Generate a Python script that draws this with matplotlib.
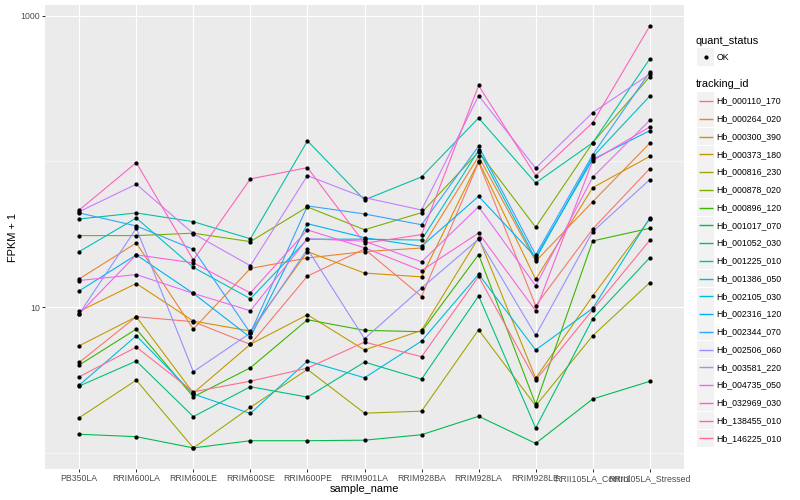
import matplotlib
matplotlib.use('Agg')
import matplotlib.pyplot as plt
import numpy as np
from matplotlib.patches import Rectangle
from matplotlib.ticker import FixedLocator, NullFormatter

plt.rcParams['font.family'] = ['Liberation Sans', 'DejaVu Sans']

samples = ["PB350LA", "RRIM600LA", "RRIM600LE", "RRIM600SE", "RRIM600PE", "RRIM901LA",
           "RRIM928BA", "RRIM928LA", "RRIM928LE", "RRII105LA_Control", "RRII105LA_Stressed"]
ids = ["Hb_000110_170", "Hb_000264_020", "Hb_000300_390", "Hb_000373_180", "Hb_000816_230",
       "Hb_000878_020", "Hb_000896_120", "Hb_001017_070", "Hb_001052_030", "Hb_001225_010",
       "Hb_001386_050", "Hb_002105_030", "Hb_002316_120", "Hb_002344_070", "Hb_002506_060",
       "Hb_003581_220", "Hb_004735_050", "Hb_032969_030", "Hb_138455_010", "Hb_146225_010"]
colors = ["#F8766D", "#EA8331", "#D89000", "#C09B00", "#A3A500", "#7CAE00", "#39B600", "#00BB4E",
          "#00BF7D", "#00C1A3", "#00BFC4", "#00BAE0", "#00B0F6", "#35A2FF", "#9590FF", "#C77CFF",
          "#E76BF3", "#FA62DB", "#FF62BC", "#FF6C91"]

# FPKM + 1, one value per sample
hb_000110_170 = [4.17, 8.58, 7.93, 5.54, 16.3, 25.0, 11.8, 98.5, 10.2, 34.3, 89.0]
hb_000264_020 = [15.6, 27.5, 7.06, 18.4, 21.7, 24.0, 25.4, 108, 20.6, 52.8, 133]
hb_000300_390 = [9.34, 14.5, 8.01, 6.84, 24.0, 17.1, 16.1, 100, 15.5, 65.9, 108]
hb_000373_180 = [5.42, 8.58, 2.57, 5.55, 8.85, 5.07, 6.92, 29.9, 3.25, 11.9, 40.2]
hb_000816_230 = [1.74, 3.15, 1.08, 2.05, 3.73, 1.87, 1.93, 6.98, 2.1, 6.35, 14.7]
hb_000878_020 = [30.9, 30.9, 32.1, 28.1, 48.6, 33.9, 44.4, 116, 35.3, 134, 381]
hb_000896_120 = [4.0, 7.06, 2.42, 3.83, 8.18, 6.92, 6.77, 22.9, 2.15, 28.4, 34.7]
hb_001017_070 = [1.34, 1.29, 1.08, 1.21, 1.21, 1.22, 1.33, 1.78, 1.16, 2.34, 3.09]
hb_001052_030 = [2.87, 4.26, 1.77, 2.84, 2.41, 4.19, 3.2, 11.9, 1.48, 8.31, 21.8]
hb_001225_010 = [40.2, 44.2, 38.5, 29.4, 138, 54.3, 78.1, 198, 71.0, 134, 504]
hb_001386_050 = [24.0, 40.8, 18.7, 11.4, 29.2, 29.2, 28.8, 119, 21.3, 107, 280]
hb_002105_030 = [2.91, 6.35, 2.53, 1.86, 4.26, 3.27, 5.84, 16.8, 5.07, 9.8, 40.8]
hb_002316_120 = [12.9, 22.8, 12.4, 6.19, 37.3, 29.9, 26.1, 57.5, 22.0, 103, 162]
hb_002344_070 = [44.2, 36.0, 24.9, 6.63, 49.4, 43.5, 36.7, 127, 22.8, 111, 409]
hb_002506_060 = [8.99, 34.7, 3.6, 6.63, 25.0, 6.06, 13.5, 29.2, 6.39, 32.9, 74.8]
hb_003581_220 = [45.1, 69.6, 31.9, 19.2, 79.7, 56.3, 46.3, 282, 89.6, 216, 396]
hb_004735_050 = [15.2, 16.7, 12.4, 9.43, 29.4, 28.3, 20.4, 48.8, 14.0, 77.7, 191]
hb_032969_030 = [8.99, 22.8, 20.1, 12.5, 33.8, 25.5, 17.8, 32.2, 9.43, 101, 172]
hb_138455_010 = [46.3, 97.9, 21.0, 75.7, 90.4, 27.4, 31.4, 331, 79.7, 184, 846]
hb_146225_010 = [3.32, 5.31, 2.62, 3.1, 3.81, 5.75, 4.56, 16.2, 3.15, 9.58, 28.7]

series = [hb_000110_170, hb_000264_020, hb_000300_390, hb_000373_180, hb_000816_230,
          hb_000878_020, hb_000896_120, hb_001017_070, hb_001052_030, hb_001225_010,
          hb_001386_050, hb_002105_030, hb_002316_120, hb_002344_070, hb_002506_060,
          hb_003581_220, hb_004735_050, hb_032969_030, hb_138455_010, hb_146225_010]

fig = plt.figure(figsize=(800 / 72, 500 / 72), dpi=72)
ax = fig.add_axes([45 / 800, 31 / 500, 639 / 800, 464 / 500])
ax.set_facecolor('#EBEBEB')
x = np.arange(len(samples))
for vals, col in zip(series, colors):
    ax.plot(x, vals, color=col, lw=1.1, zorder=3)
    ax.scatter(x, vals, s=18, color='black', zorder=4, linewidths=0)

# log10 scale with ggplot-like 5% padding
ax.set_yscale('log')
allv = np.log10(np.concatenate(series))
lo, hi = allv.min(), allv.max()
pad = (hi - lo) * 0.05
ax.set_ylim(10 ** (lo - pad), 10 ** (hi + pad))
ax.set_xlim(-0.6, len(samples) - 0.4)
ax.set_yticks([10, 1000])
ax.set_yticklabels(["10", "1000"])
ax.yaxis.set_minor_locator(FixedLocator([1, 100]))
ax.yaxis.set_minor_formatter(NullFormatter())
ax.set_xticks(x)
ax.set_xticklabels(samples)
ax.tick_params(which='major', length=2.75, width=1.0, color='#333333', labelsize=8.8,
               labelcolor='#4D4D4D', pad=2.2)
ax.tick_params(which='minor', length=0)
ax.grid(which='major', color='white', lw=1.1)
ax.grid(which='minor', axis='y', color='white', lw=0.55)
ax.set_axisbelow(True)
for s in ax.spines.values():
    s.set_visible(False)

fig.text(13 / 800, 1 - 237 / 500, "FPKM + 1", rotation=90, ha='center', va='center', fontsize=11)
fig.text(364 / 800, 1 - 488.5 / 500, "sample_name", ha='center', va='center', fontsize=11)

# legends drawn by hand, in pixel coords
lax = fig.add_axes([0, 0, 1, 1])
lax.set_xlim(0, 800)
lax.set_ylim(500, 0)
lax.axis('off')
lax.text(696, 40.7, "quant_status", va='center', ha='left', fontsize=11)
lax.add_patch(Rectangle((697, 48.3), 17.28, 17.28, facecolor='#F2F2F2', edgecolor='none'))
lax.plot([705.6], [57], 'o', color='black', ms=4.2, mew=0)
lax.text(716.7, 57, "OK", va='center', ha='left', fontsize=8.8)
lax.text(696, 84, "tracking_id", va='center', ha='left', fontsize=11)
for i, (name, col) in enumerate(zip(ids, colors)):
    yc = 101 + i * 17.75
    lax.add_patch(Rectangle((697, yc - 8.64), 17.28, 17.28, facecolor='#F2F2F2', edgecolor='none'))
    lax.plot([698.7, 712.6], [yc, yc], color=col, lw=1.4, solid_capstyle='butt')
    lax.text(716.7, yc, name, va='center', ha='left', fontsize=8.8)

fig.savefig('out.png', dpi=72)
